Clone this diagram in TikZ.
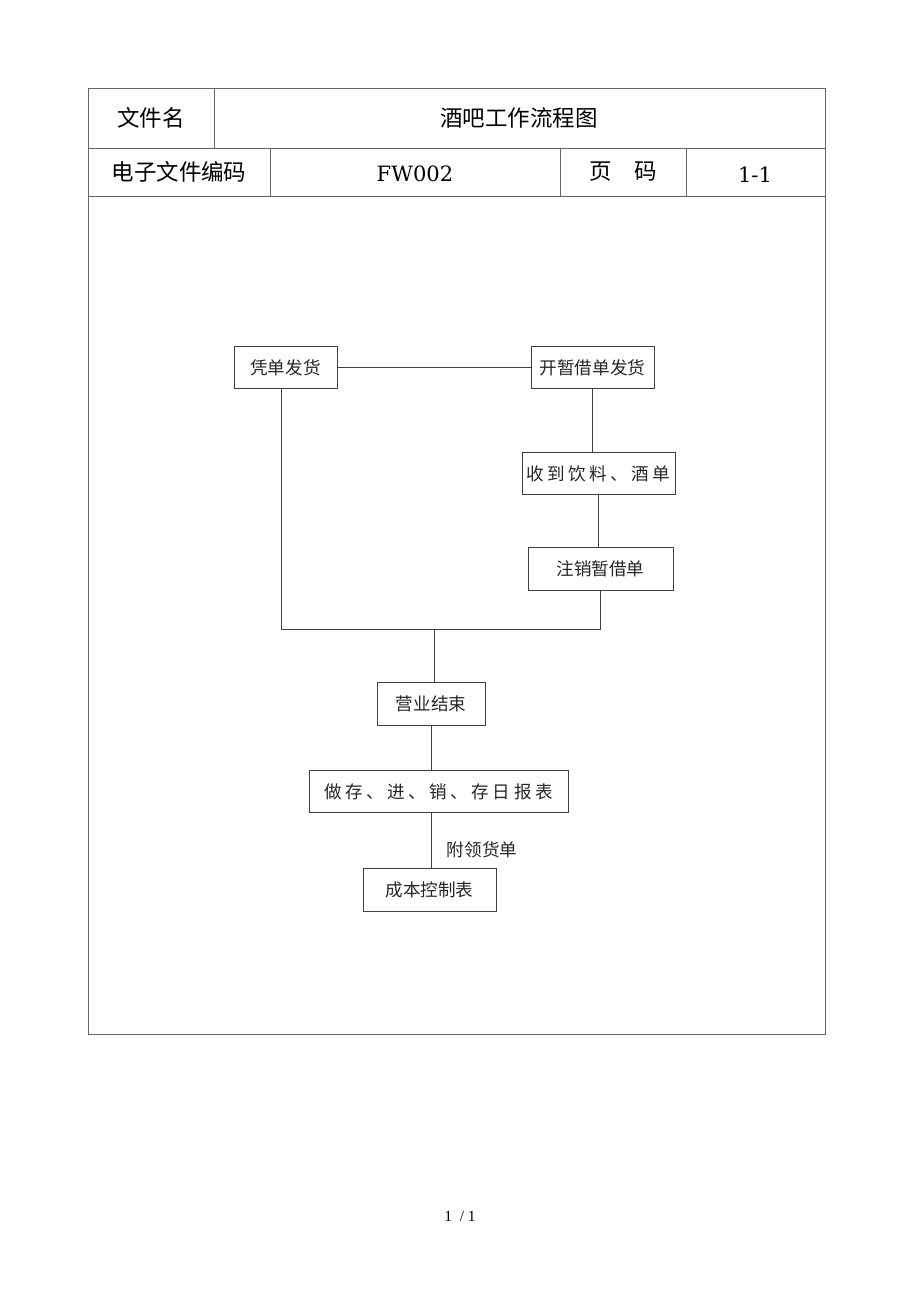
\documentclass[tikz,border=0pt]{standalone}
\usepackage{fontspec}
\setmainfont{DejaVu Serif}
\newfontfamily\cjk{Noto Sans CJK SC}
\newfontfamily\cjkwide[LetterSpace=20]{Noto Sans CJK SC}
\newfontfamily\pagefont{Liberation Serif}
\begin{document}
\begin{tikzpicture}[x=0.025cm, y=-0.025cm]
        \tikzstyle{head_text}  = [font = \cjk\fontsize{16}{16}\selectfont, text = black]
        \tikzstyle{flow_box}   = [shape = rectangle, draw = black!75, line width = 0.5pt,
                                  minimum height = 1.06cm, inner sep = 0pt,
                                  font = \cjk\fontsize{12.5}{12.5}\selectfont, text = black!85]
        \tikzstyle{flow_line}  = [draw = black!75, line width = 0.5pt]

        \useasboundingbox (0,0) rectangle (920,1302);
        \fill[white] (0,0) rectangle (920,1302);

        % header table
        \draw[black!60, line width = 0.6pt] (88,88) rectangle (825,1034);
        \draw[black!60, line width = 0.6pt]
          (88,148) -- (825,148)
          (88,196) -- (825,196)
          (214,88) -- (214,148)
          (270,148) -- (270,196)
          (560,148) -- (560,196)
          (686,148) -- (686,196)
        ;

        \node[head_text] at (151,118) (h_name)  {文件名};
        \node[head_text] at (519,118) (h_title) {酒吧工作流程图};
        \node[head_text] at (179,172) (h_code)  {电子文件编码};
        \node[font = \fontsize{15}{15}\selectfont] at (415,174) (h_fw) {FW002};
        \node[head_text] at (623,172) (h_page)  {页\hspace{1em}码};
        \node[font = \fontsize{15}{15}\selectfont] at (755,175) (h_num) {1-1};

        % flow chart
        \node[flow_box, minimum width = 2.575cm] at (285.5,367.5) (n_pd)  {凭单发货};
        \node[flow_box, minimum width = 3.075cm] at (592.5,367.5) (n_kzj) {开暂借单发货};
        \node[flow_box, minimum width = 3.825cm, font = \cjkwide\fontsize{12.5}{12.5}\selectfont]
                                                 at (598.5,473.5) (n_sd)  {收到饮料、酒单};
        \node[flow_box, minimum width = 3.625cm] at (600.5,569)   (n_zx)  {注销暂借单};
        \node[flow_box, minimum width = 2.7cm]   at (431,704)     (n_yy)  {营业结束};
        \node[flow_box, minimum width = 6.475cm, font = \cjkwide\fontsize{12.5}{12.5}\selectfont]
                                                 at (438.5,791.5) (n_bb)  {做存、进、销、存日报表};
        \node[flow_box, minimum width = 3.325cm] at (429.5,890)   (n_cb)  {成本控制表};

        \coordinate (j_end)  at (434,629);
        \coordinate (j_left) at (281,629);

        \draw[flow_line]
          (n_pd) -- (n_kzj)
          (n_kzj.south) -- (n_kzj.south |- n_sd.north)
          (n_sd.south) -- (n_sd.south |- n_zx.north)
          (j_left |- n_pd.south) -- (j_left) -| (n_zx.south)
          (j_end) -- (j_end |- n_yy.north)
          (n_yy.south) -- (n_yy.south |- n_bb.north)
          (n_bb.south -| n_yy.south) -- (n_cb.north -| n_yy.south)
        ;

        \node[font = \cjk\fontsize{12.5}{12.5}\selectfont, text = black!85] at (482,850) (l_fl) {附领货单};

        \node[font = \pagefont\fontsize{11}{11}\selectfont] at (460,1216) (p_num) {1\ \ / 1};
      \end{tikzpicture}
\end{document}
